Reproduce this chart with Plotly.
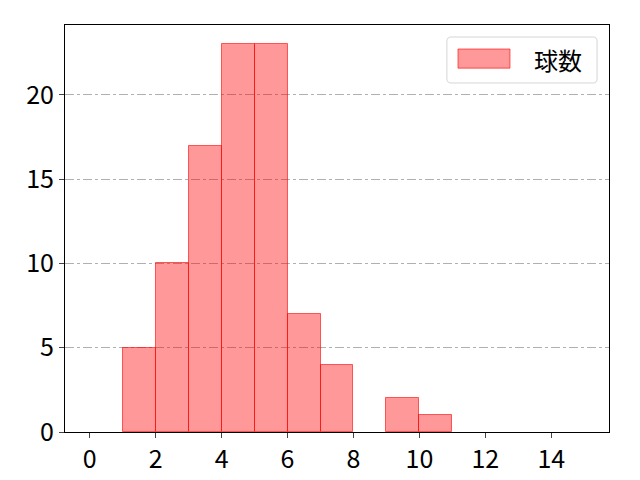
import plotly.graph_objects as go

# histogram of pitches per at-bat
bin_left = [0, 1, 2, 3, 4, 5, 6, 7, 8, 9, 10, 11, 12, 13, 14]
counts = [0, 5, 10, 17, 23, 23, 7, 4, 0, 2, 1, 0, 0, 0, 0]
x_ticks = [0, 2, 4, 6, 8, 10, 12, 14]
y_ticks = [0, 5, 10, 15, 20]
label = "球数"

font = "Noto Sans CJK JP"
fill = "rgba(255,0,0,0.4)"
edge = "rgba(255,0,0,0.6)"

fig = go.Figure()
fig.add_trace(go.Bar(
    x=[b + 0.5 for b in bin_left],
    y=counts,
    width=1,
    name=label,
    marker=dict(color=fill,
                line=dict(color=edge, width=[0 if c == 0 else 1 for c in counts])),
    showlegend=False,
))

# legend drawn by hand, matplotlib style
x0, x1, y0, y1 = 0.702, 0.978, 0.8575, 0.9705
rx, ry = 0.008, 0.010
path = (f"M {x0+rx},{y1} L {x1-rx},{y1} Q {x1},{y1} {x1},{y1-ry} "
        f"L {x1},{y0+ry} Q {x1},{y0} {x1-rx},{y0} L {x0+rx},{y0} "
        f"Q {x0},{y0} {x0},{y0+ry} L {x0},{y1-ry} Q {x0},{y1} {x0+rx},{y1} Z")
fig.add_shape(type="path", path=path, xref="paper", yref="paper",
              line=dict(color="#d5d5d5", width=1), fillcolor="rgba(255,255,255,0.8)")
fig.add_shape(type="rect", xref="paper", yref="paper",
              x0=0.7224, x1=0.818, y0=0.894, y1=0.941,
              line=dict(color=edge, width=1), fillcolor=fill)
fig.add_annotation(x=0.906, y=0.916, xref="paper", yref="paper", text=label,
                   xanchor="center", yanchor="middle",
                   showarrow=False, font=dict(size=24, color="black"))

fig.update_layout(
    width=640, height=480,
    margin=dict(l=57, r=39, t=17, b=56),
    plot_bgcolor="white", paper_bgcolor="white",
    font=dict(family=font, size=25, color="black"),
    bargap=0,
    xaxis=dict(range=[-0.75, 15.75], tickvals=x_ticks, ticks="outside",
               ticklen=5, showgrid=False, zeroline=False,
               showline=True, linecolor="black", mirror=True),
    yaxis=dict(range=[0, 24.15], tickvals=y_ticks, ticks="outside",
               ticklen=5, showgrid=True, gridcolor="#b0b0b0",
               griddash="dashdot", gridwidth=1, zeroline=False,
               showline=True, linecolor="black", mirror=True),
)

fig.write_html("out.html")
